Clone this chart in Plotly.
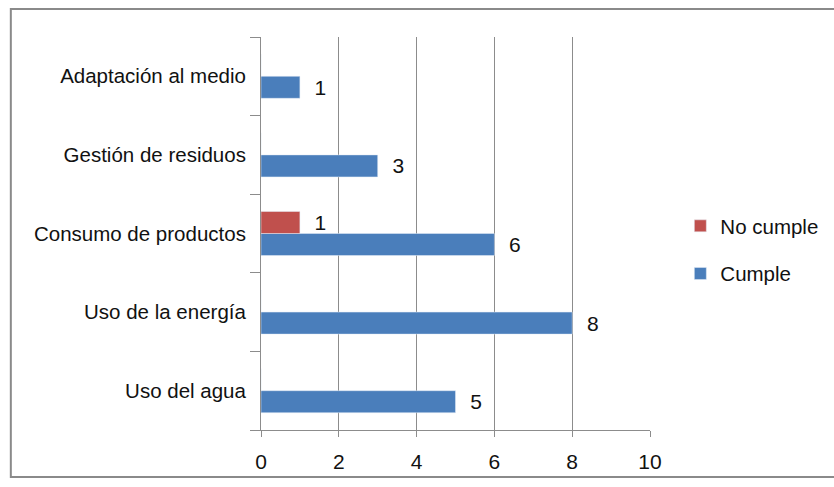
import plotly.graph_objects as go

categories = ["Uso del agua", "Uso de la energía", "Consumo de productos",
              "Gestión de residuos", "Adaptación al medio"]
cumple = [5, 8, 6, 3, 1]
no_cumple = [0, 0, 1, 0, 0]
x_ticks = [0, 2, 4, 6, 8, 10]

BLUE = "#4a7ebb"
RED = "#c0504d"
FONT = "Liberation Sans, Arial, sans-serif"
FS = 20.5
NB = "\u00a0\u00a0"

def labels(vals):
    return [f"{NB}{v}" if v else "" for v in vals]

fig = go.Figure()
fig.add_trace(go.Bar(
    y=categories, x=cumple, orientation="h", name="Cumple",
    marker=dict(color=BLUE), text=labels(cumple), textposition="outside",
    textfont=dict(size=21, color="#111", family=FONT), constraintext="none",
    legendgroup="c", legendrank=2, cliponaxis=False,
))
fig.add_trace(go.Bar(
    y=categories, x=no_cumple, orientation="h", name="No cumple",
    marker=dict(color=RED), text=labels(no_cumple), textposition="outside",
    textfont=dict(size=21, color="#111", family=FONT), constraintext="none",
    legendgroup="n", legendrank=1, cliponaxis=False,
))

fig.update_layout(
    width=834, height=487,
    margin=dict(l=260.5, r=184, t=37, b=57, autoexpand=False),
    paper_bgcolor="white", plot_bgcolor="white",
    barmode="group", bargap=0.44, bargroupgap=0,
    font=dict(family=FONT, size=FS, color="#111"),
    showlegend=True,
    legend=dict(x=1.078, xanchor="left", y=0.458, yanchor="middle",
                traceorder="grouped", tracegroupgap=18,
                font=dict(size=FS, family=FONT, color="#111"),
                bgcolor="rgba(0,0,0,0)"),
    xaxis=dict(range=[0, 10], tickvals=x_ticks, ticktext=[str(t) for t in x_ticks],
               showgrid=True, gridcolor="#8c8c8c", gridwidth=1,
               showline=True, linecolor="#8c8c8c", linewidth=1,
               ticks="outside", ticklen=6, tickcolor="#8c8c8c",
               ticklabelstandoff=7, zeroline=False, automargin=False,
               tickfont=dict(size=21, family=FONT, color="#111")),
    yaxis=dict(categoryorder="array", categoryarray=categories,
               showline=True, linecolor="#8c8c8c", linewidth=1,
               ticks="outside", ticklen=10, tickcolor="#8c8c8c",
               tickson="boundaries", showgrid=False, ticklabelstandoff=10,
               automargin=False,
               tickfont=dict(size=FS, family=FONT, color="#111")),
    shapes=[dict(type="rect", xref="paper", yref="paper",
                 x0=-250.5/389.5, x1=(834-260.5+20)/389.5,
                 y0=-47/393, y1=(393+28)/393,
                 line=dict(color="#8a8a8a", width=2), layer="below")],
)

fig.write_html("out.html")
